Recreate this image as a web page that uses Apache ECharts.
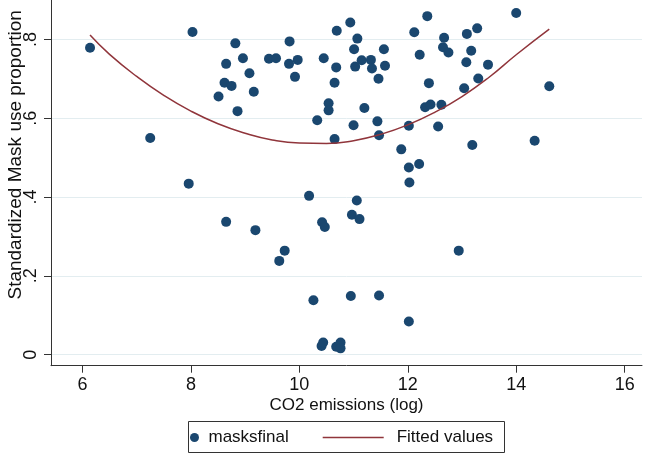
<!DOCTYPE html>
<html>
<head>
<meta charset="utf-8">
<script src="https://cdn.jsdelivr.net/npm/echarts@6/dist/echarts.min.js"></script>
<style>
  html, body { margin: 0; padding: 0; background: #ffffff; }
  #chart { width: 645px; height: 456px; }
</style>
</head>
<body>
<div id="chart"></div>
<script>
// CO2 emissions (log) per observation
const co2 = [
  6.14, 7.25, 7.96, 8.03, 8.51, 8.62, 8.65, 8.65, 8.75, 8.82,
  8.86, 8.96, 9.08, 9.16, 9.19, 9.44, 9.57, 9.63, 9.73, 9.81,
  9.82, 9.92, 9.97, 10.18, 10.26, 10.33, 10.42, 10.41, 10.44, 10.45,
  10.47, 10.54, 10.54, 10.65, 10.65, 10.68, 10.68, 10.69, 10.76, 10.76,
  10.94, 10.95, 10.97, 11.00, 11.01, 11.03, 11.06, 11.07, 11.11, 11.15,
  11.20, 11.32, 11.34, 11.44, 11.46, 11.47, 11.47, 11.56, 11.58, 11.88,
  12.02, 12.02, 12.03, 12.02, 12.12, 12.21, 12.22, 12.32, 12.36, 12.39,
  12.42, 12.56, 12.62, 12.65, 12.67, 12.75, 12.94, 13.04, 13.08, 13.09,
  13.17, 13.19, 13.28, 13.30, 13.48, 14.00, 14.34, 14.61
];
// Standardized mask use proportion (masksfinal)
const masks = [
  0.779, 0.550, 0.434, 0.819, 0.655, 0.690, 0.738, 0.337, 0.682, 0.790,
  0.618, 0.752, 0.714, 0.667, 0.316, 0.751, 0.752, 0.238, 0.264, 0.738,
  0.795, 0.705, 0.748, 0.403, 0.138, 0.595, 0.336, 0.022, 0.031, 0.752,
  0.324, 0.638, 0.620, 0.690, 0.547, 0.729, 0.020, 0.822, 0.031, 0.016,
  0.843, 0.149, 0.355, 0.582, 0.775, 0.731, 0.391, 0.802, 0.344, 0.747,
  0.626, 0.748, 0.726, 0.592, 0.700, 0.557, 0.150, 0.775, 0.733, 0.521,
  0.581, 0.475, 0.437, 0.084, 0.818, 0.484, 0.761, 0.628, 0.859, 0.689,
  0.635, 0.579, 0.634, 0.780, 0.804, 0.767, 0.264, 0.676, 0.742, 0.814,
  0.771, 0.532, 0.828, 0.701, 0.736, 0.867, 0.543, 0.681
];
// Fitted values (quadratic fit)
const fitX = [6.14, 6.5, 7, 7.5, 8, 8.5, 9, 9.5, 10, 10.5, 11, 11.5, 12, 12.5, 13, 13.5, 14, 14.61];
const fitY = [0.811, 0.762, 0.706, 0.658, 0.618, 0.586, 0.562, 0.545, 0.537, 0.536, 0.543, 0.559, 0.583, 0.615, 0.655, 0.704, 0.761, 0.826];

const xTicks = [6, 8, 10, 12, 14, 16];
const yTicks = [0, 0.2, 0.4, 0.6, 0.8];
const yTickLabels = ['0', '.2', '.4', '.6', '.8'];

const FONT = 'Liberation Sans';
const TXT = '#111111';
const AXC = '#333333';

const chart = echarts.init(document.getElementById('chart'), null, { renderer: 'canvas' });

chart.setOption({
  animation: false,
  backgroundColor: '#ffffff',
  textStyle: { fontFamily: FONT },
  grid: { left: 51, right: 3, top: 0, bottom: 90.3, containLabel: false, outerBoundsMode: 'none' },
  xAxis: {
    type: 'value',
    min: 5.42,
    max: 16.32,
    name: 'CO2 emissions (log)',
    nameLocation: 'middle',
    nameGap: 31,
    nameMoveOverlap: false,
    nameTextStyle: { fontSize: 17, color: TXT, fontFamily: FONT },
    axisLine: { show: true, onZero: false, lineStyle: { color: AXC, width: 1 } },
    axisTick: { show: true, length: 7, customValues: xTicks, lineStyle: { color: AXC } },
    axisLabel: { show: true, customValues: xTicks, fontSize: 18, color: TXT, margin: 10, fontFamily: FONT },
    splitLine: { show: false }
  },
  yAxis: {
    type: 'value',
    min: -0.028,
    max: 0.9,
    name: 'Standardized Mask use proportion',
    nameLocation: 'middle',
    nameRotate: 90,
    nameGap: 26,
    nameMoveOverlap: false,
    nameTextStyle: { fontSize: 19, color: TXT, fontFamily: FONT, padding: [0, 0, 0, 56] },
    axisLine: { show: true, onZero: false, lineStyle: { color: AXC, width: 1 } },
    axisTick: { show: true, length: 7, customValues: yTicks, lineStyle: { color: AXC } },
    axisLabel: {
      show: true,
      customValues: yTicks,
      rotate: 90,
      fontSize: 18,
      color: TXT,
      margin: 11,
      fontFamily: FONT,
      formatter: function (v) {
        for (let i = 0; i < yTicks.length; i++) {
          if (Math.abs(yTicks[i] - v) < 1e-9) return yTickLabels[i];
        }
        return '';
      }
    },
    splitLine: { show: true, lineStyle: { color: '#e3edf0', width: 1 } }
  },
  legend: [
    {
      data: [{ name: 'masksfinal', icon: 'circle' }],
      left: 190,
      top: 429,
      padding: 0,
      itemWidth: 18,
      itemHeight: 9,
      selectedMode: false,
      textStyle: { fontSize: 17, color: TXT, fontFamily: FONT }
    },
    {
      data: [{ name: 'Fitted values', icon: 'rect' }],
      left: 322.7,
      top: 429,
      padding: 0,
      itemWidth: 61,
      itemHeight: 1.5,
      selectedMode: false,
      textStyle: { fontSize: 17, color: TXT, fontFamily: FONT, padding: [0, 0, 0, 8] }
    }
  ],
  graphic: [
    {
      type: 'rect',
      silent: true,
      shape: { x: 188.5, y: 421.5, width: 316, height: 31 },
      style: { fill: 'none', stroke: AXC, lineWidth: 1 }
    }
  ],
  series: [
    {
      name: 'masksfinal',
      type: 'scatter',
      symbol: 'circle',
      symbolSize: 10,
      itemStyle: { color: '#1a476f', opacity: 1 },
      data: co2.map((x, i) => [x, masks[i]])
    },
    {
      name: 'Fitted values',
      type: 'line',
      smooth: 0.5,
      symbol: 'none',
      showSymbol: false,
      lineStyle: { color: '#90353b', width: 1.5 },
      itemStyle: { color: '#90353b' },
      data: fitX.map((x, i) => [x, fitY[i]])
    }
  ]
});
</script>
</body>
</html>
